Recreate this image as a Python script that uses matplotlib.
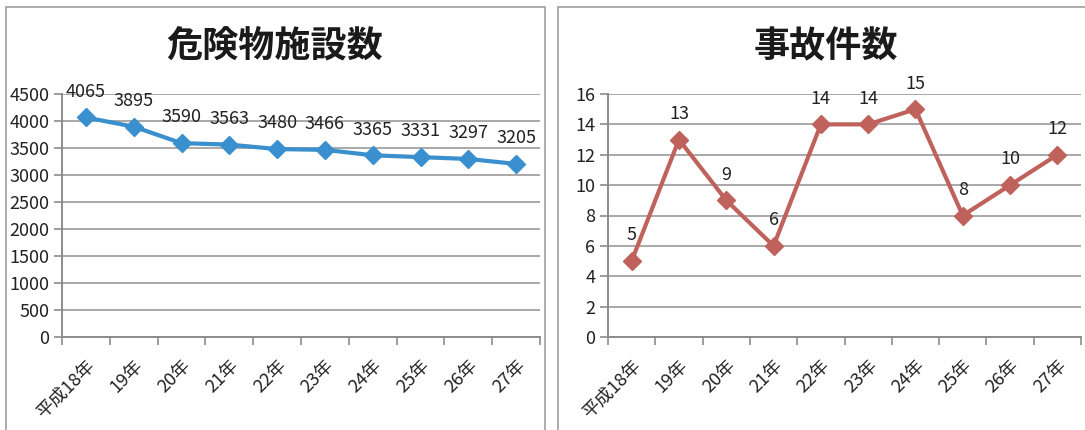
import matplotlib.pyplot as plt
import matplotlib.patches as patches
import numpy as np

plt.rcParams['font.family'] = ['Noto Sans CJK JP', 'DejaVu Sans']

# data
years = ['平成18年', '19年', '20年', '21年', '22年', '23年', '24年', '25年', '26年', '27年']
facilities = [4065, 3895, 3590, 3563, 3480, 3466, 3365, 3331, 3297, 3205]
accidents = [5, 13, 9, 6, 14, 14, 15, 8, 10, 12]

W, H = 1085, 430
fig = plt.figure(figsize=(W / 100, H / 100), dpi=100)

# panel frames
for x0, x1 in [(6, 545), (558, 1090)]:
    fig.patches.append(patches.Rectangle((x0 / W, -0.05), (x1 - x0) / W, (H - 7) / H + 0.05,
                                         transform=fig.transFigure, fill=False,
                                         edgecolor='#a0a0a0', linewidth=1.2))


def draw_panel(rect, title, values, color, ymax, ystep, title_x):
    ax = fig.add_axes(rect)
    x = np.arange(len(values))
    ax.plot(x, values, color=color, linewidth=3, marker='D', markersize=9, zorder=3)
    for xi, v in zip(x, values):
        ax.annotate(str(v), (xi, v), xytext=(0, 12), textcoords='offset points',
                    ha='center', va='bottom', fontsize=13, color='#222222')
    ax.set_xlim(-0.5, len(values) - 0.5)
    ax.set_ylim(0, ymax)
    ax.set_yticks(np.arange(0, ymax + 1, ystep))
    ax.set_xticks(np.arange(-0.5, len(values), 1), minor=False)
    ax.set_xticklabels([])
    ax.set_xticks(x, minor=True)
    ax.set_xticklabels(years, minor=True, rotation=45, ha='right', rotation_mode='anchor',
                       fontsize=13)
    ax.tick_params(axis='x', which='minor', length=0, pad=14)
    ax.tick_params(axis='x', which='major', length=6, color='#8c8c8c', width=1.2)
    ax.tick_params(axis='y', length=6, color='#8c8c8c', width=1.2, labelsize=13, pad=3)
    ax.grid(axis='y', color='#9a9a9a', linewidth=1.2)
    ax.set_axisbelow(True)
    for s in ['top', 'right']:
        ax.spines[s].set_visible(False)
    for s in ['left', 'bottom']:
        ax.spines[s].set_color('#8c8c8c')
        ax.spines[s].set_linewidth(1.4)
    ax.tick_params(colors='#222222', which='both')
    ax.tick_params(axis='both', which='major', color='#8c8c8c')
    fig.text(title_x / W, 1 - 47 / H, title, ha='center', va='center', fontsize=26,
             fontweight='bold', color='#1a1a1a')
    return ax


draw_panel([62 / W, 1 - 337 / H, (540 - 62) / W, (337 - 94) / H], '危険物施設数',
           facilities, '#3a8fce', 4500, 500, 275)
draw_panel([608 / W, 1 - 337 / H, (1081 - 608) / W, (337 - 94) / H], '事故件数',
           accidents, '#c0625c', 16, 2, 826)

fig.savefig('out.png', dpi=100)
